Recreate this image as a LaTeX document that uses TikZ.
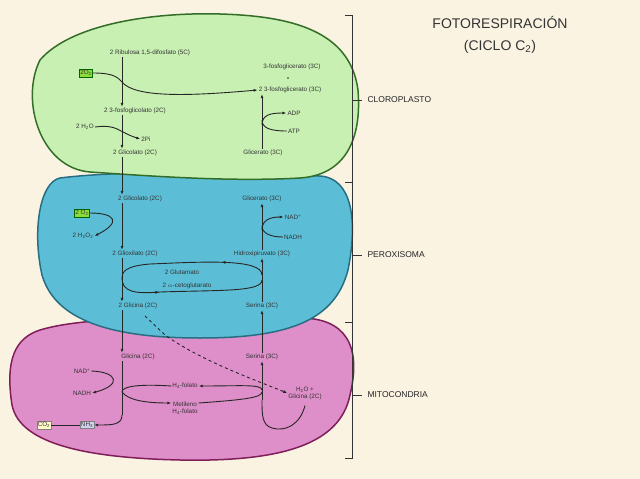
\documentclass[tikz,border=0pt]{standalone}
\usepackage{fontspec}
\setmainfont{Liberation Sans}
\usetikzlibrary{arrows.meta,decorations.markings}
\begin{document}
\begin{tikzpicture}[x=1pt,y=-1pt,
  lbl/.style={font=\fontsize{6.3}{7}\selectfont,text=black!80,inner sep=1pt},
  big/.style={font=\fontsize{14}{15}\selectfont,text=black!80},
  sec/.style={font=\fontsize{8.5}{9}\selectfont,text=black!85,anchor=west},
  arr/.style={-{Latex[length=4pt,width=3pt]},line width=0.9pt,black!85},
  ln/.style={line width=0.9pt,black!85},
  midarr/.style={ln,postaction={decorate},decoration={markings,mark=at position #1 with {\arrow{Latex[length=4pt,width=3pt]}}}}]
\fill[fill={rgb,255:red,250;green,243;blue,226}] (0,0) rectangle (640,479);
\useasboundingbox (0,0) rectangle (640,479);
% blobs
\draw[line width=1.5pt,draw={rgb,255:red,128;green,30;blue,90},fill={rgb,255:red,222;green,142;blue,200}]
 (40,330) .. controls (100,312) and (220,322) .. (300,318) .. controls (345,318) and (362,345) .. (350,395)
 .. controls (340,445) and (280,462) .. (180,460) .. controls (90,458) and (20,445) .. (12,405)
 .. controls (5,360) and (15,338) .. (40,330) -- cycle;
\draw[line width=1.5pt,draw={rgb,255:red,40;green,110;blue,130},fill={rgb,255:red,92;green,190;blue,214}]
 (60,178) .. controls (140,168) and (260,176) .. (320,176) .. controls (352,178) and (358,220) .. (348,270)
 .. controls (335,320) and (290,338) .. (200,338) .. controls (110,338) and (55,320) .. (42,275)
 .. controls (32,230) and (40,182) .. (60,178) -- cycle;
\draw[line width=1.5pt,draw={rgb,255:red,50;green,110;blue,40},fill={rgb,255:red,200;green,240;blue,178}]
 (40,60) .. controls (70,25) and (150,12) .. (220,14) .. controls (290,16) and (350,30) .. (358,90)
 .. controls (362,140) and (345,175) .. (300,178) .. controls (230,182) and (150,176) .. (90,172)
 .. controls (40,168) and (20,100) .. (40,60) -- cycle;
% bracket
\draw[line width=1pt,black!80] (345,15) -- (352,15) -- (352,458) -- (345,458);
\draw[line width=1pt,black!80] (352,182) -- (345,182) (352,322) -- (345,322);
\draw[line width=1pt,black!80] (352,100) -- (362,100) (352,255) -- (362,255) (352,395) -- (362,395);
\node[sec] (clo) at (364,100) {CLOROPLASTO};
\node[sec] (per) at (364,255) {PEROXISOMA};
\node[sec] (mit) at (364,395) {MITOCONDRIA};
\node[big] (t1) at (500,22) {FOTORESPIRACIÓN};
\node[big] (t2) at (500,47) {(CICLO C\textsubscript{2})};
% chloroplast
\node[lbl] (rub) at (150,53) {2 Ribulosa 1,5-difosfato (5C)};
\node[lbl,fill={rgb,255:red,140;green,220;blue,60},draw=green!40!black] (o2a) at (86,73) {2O\textsubscript{2}};
\node[lbl] (fg1) at (292,67) {3-fosfoglicerato (3C)};
\node[lbl] (fg2) at (290,90) {2 3-fosfoglicerato (3C)};
\node[lbl] (pgl) at (135,111) {2 3-fosfoglicolato (2C)};
\node[lbl] (h2o) at (85,127) {2 H\textsubscript{2}O};
\node[lbl] (pi) at (146,139) {2Pi};
\node[lbl] (glc1) at (135,153) {2 Glicolato (2C)};
\node[lbl] (adp) at (294,113) {ADP};
\node[lbl] (atp) at (294,131) {ATP};
\node[lbl] (gly1) at (263,153) {Glicerato (3C)};
\fill[black!80] (288,78) circle (0.8);
\draw[arr] (rub.south -| 122,0) -- (pgl.north -| 122,0);
\draw[arr] (o2a.east) .. controls (115,73) and (118,78) .. (122,82) .. controls (135,98) and (190,96) .. (fg2.west);
\draw[arr] (pgl.south -| 122,0) -- (glc1.north -| 122,0);
\draw[arr] (h2o.east) .. controls (118,124) and (118,132) .. (pi.west);
\draw[arr] (gly1.north -| 262,0) -- (fg2.south -| 262,0);
\draw[arr] (262,125) .. controls (262,115) and (270,113) .. (adp.west);
\draw[ln] (atp.west) .. controls (270,131) and (262,128) .. (262,120);
% peroxisome
\node[lbl] (glc2) at (140,199) {2 Glicolato (2C)};
\node[lbl,fill={rgb,255:red,140;green,220;blue,60},draw=green!40!black] (o2b) at (82,213) {2 O\textsubscript{2}};
\node[lbl] (h2o2) at (83,236) {2 H\textsubscript{2}O\textsubscript{2}};
\node[lbl] (glx) at (135,254) {2 Glioxilato (2C)};
\node[lbl] (glu) at (182,272) {2 Glutamato};
\node[lbl] (akg) at (187,286) {2 $\alpha$-cetoglutarato};
\node[lbl] (glyc) at (138,306) {2 Glicina (2C)};
\node[lbl] (gly2) at (262,199) {Glicerato (3C)};
\node[lbl] (nad1) at (293,217) {NAD\textsuperscript{+}};
\node[lbl] (nadh1) at (293,237) {NADH};
\node[lbl] (hpy) at (262,254) {Hidroxipiruvato (3C)};
\node[lbl] (ser1) at (262,306) {Serina (3C)};
\draw[arr] (glc1.south -| 122,0) -- (glc2.north -| 122,0);
\draw[arr] (glc2.south -| 122,0) -- (glx.north -| 122,0);
\draw[arr] (o2b.east) .. controls (115,213) and (122,222) .. (h2o2.east);
\draw[arr] (glx.south -| 122,0) -- (glyc.north -| 122,0);
\draw[arr] (hpy.north -| 262,0) -- (gly2.south -| 262,0);
\draw[arr] (262,230) .. controls (262,220) and (270,217) .. (nad1.west);
\draw[ln] (nadh1.west) .. controls (270,237) and (262,233) .. (262,226);
\draw[arr] (ser1.north -| 262,0) -- (hpy.south -| 262,0);
\draw[midarr=0.3] (262,275) .. controls (262,258) and (200,262) .. (150,264) .. controls (125,266) and (122,272) .. (122,278);
\draw[midarr=0.3] (122,278) .. controls (122,292) and (135,294) .. (160,292) .. controls (220,290) and (262,292) .. (262,280);
% mitochondria
\node[lbl] (glyc2) at (138,357) {Glicina (2C)};
\node[lbl] (nad2) at (82,371) {NAD\textsuperscript{+}};
\node[lbl] (nadh2) at (82,393) {NADH};
\node[lbl] (thf) at (185,386) {H\textsubscript{4}-folato};
\node[lbl,align=center] (mthf) at (185,408) {Metileno\\H\textsubscript{4}-folato};
\node[lbl] (ser2) at (262,357) {Serina (3C)};
\node[lbl,align=center] (h2og) at (305,393) {H\textsubscript{2}O +\\Glicina (2C)};
\node[lbl,fill={rgb,255:red,255;green,250;blue,200},draw=black!50] (co2) at (44,425) {CO\textsubscript{2}};
\node[lbl,fill={rgb,255:red,210;green,210;blue,240},draw=black!50] (nh3) at (87,425) {NH\textsubscript{3}};
\draw[arr] (glyc.south -| 122,0) -- (glyc2.north -| 122,0);
\draw[arr,dashed] (145,316) -- (165,335) .. controls (200,360) and (250,378) .. (h2og.west);
\draw[ln] (glyc2.south -| 122,0) -- (122,415);
\draw[arr] (122,415) .. controls (122,425) and (112,425) .. (nh3.east);
\draw[arr] (nad2.east) .. controls (118,372) and (122,385) .. (nadh2.east);
\draw[ln] (co2.east) -- (nh3.west);
\draw[arr] (122,392) .. controls (128,400) and (145,403) .. (mthf.west |- 0,403);
\draw[ln] (mthf.east |- 0,403) .. controls (240,400) and (262,398) .. (262,392);
\draw[arr] (262,390) .. controls (262,384) and (240,386) .. (thf.east);
\draw[ln] (thf.west) .. controls (140,384) and (122,386) .. (122,392);
\draw[ln] (h2og.south) ++(0,5) .. controls (300,425) and (285,432) .. (272,428) .. controls (262,425) and (262,415) .. (262,400);
\draw[arr] (262,400) -- (ser2.south -| 262,0);
\draw[arr] (ser2.north -| 262,0) -- (ser1.south -| 262,0);
\end{tikzpicture}
\end{document}
